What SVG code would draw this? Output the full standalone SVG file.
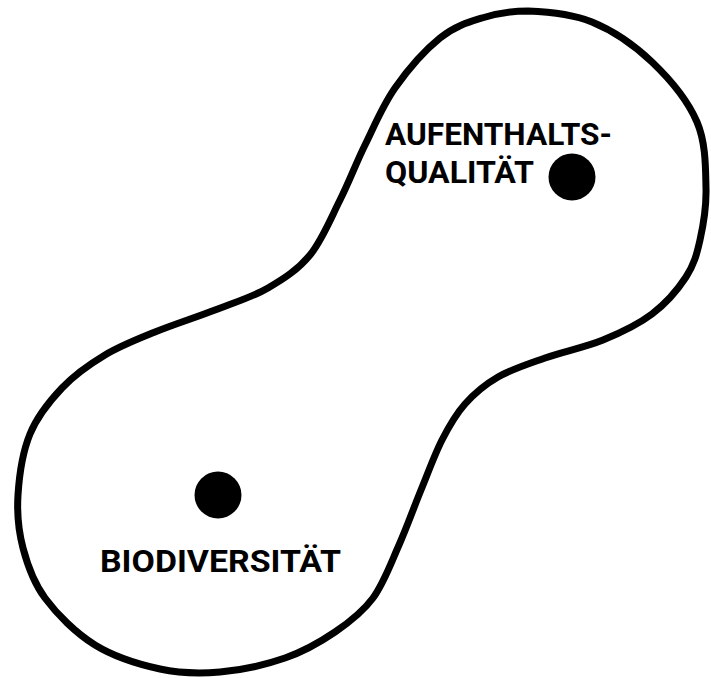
<svg xmlns="http://www.w3.org/2000/svg" width="711" height="678" viewBox="0 0 711 678">
  <style>
    .outline { fill: none; stroke: #000; stroke-width: 7; stroke-linejoin: round; }
    .dot { fill: #000; }
    .label { font-family: Roboto, "Liberation Sans", sans-serif; font-weight: 700; font-size: 31px; fill: #000; }
  </style>
  <rect x="0" y="0" width="711" height="678" fill="#fff"/>
  <g id="outline">
    <path class="outline" d="M 528 11 C 546.3 11.7, 571.3 13.5, 592 22 C 612.7 30.5, 634.5 45.3, 652 62 C 669.5 78.7, 688 101, 697 122 C 706 143, 705.5 168.3, 706 188 C 706.5 207.7, 703.3 225.2, 700 240 C 696.7 254.8, 694 264.7, 686 277 C 678 289.3, 665.8 303.5, 652 314 C 638.2 324.5, 620.8 332.7, 603 340 C 585.2 347.3, 562.5 351.8, 545 358 C 527.5 364.2, 511.3 369.3, 498 377 C 484.7 384.7, 474.3 393.5, 465 404 C 455.7 414.5, 449.3 425.7, 442 440 C 434.7 454.3, 428.2 472.5, 421 490 C 413.8 507.5, 407 527, 399 545 C 391 563, 383.7 583.5, 373 598 C 362.3 612.5, 349.7 622, 335 632 C 320.3 642, 304.2 651.3, 285 658 C 265.8 664.7, 240.8 670.2, 220 672 C 199.2 673.8, 180.8 673.5, 160 669 C 139.2 664.5, 114.2 656.8, 95 645 C 75.8 633.2, 57 614.2, 45 598 C 33 581.8, 27.5 565.2, 23 548 C 18.5 530.8, 16.8 514, 18 495 C 19.2 476, 22.7 451.8, 30 434 C 37.3 416.2, 49.5 401.2, 62 388 C 74.5 374.8, 89.5 364.3, 105 355 C 120.5 345.7, 136.7 339.5, 155 332 C 173.3 324.5, 196.2 317.3, 215 310 C 233.8 302.7, 252.2 297.2, 268 288 C 283.8 278.8, 298 269.7, 310 255 C 322 240.3, 330.8 218.3, 340 200 C 349.2 181.7, 355.8 163.7, 365 145 C 374.2 126.3, 382.5 105.8, 395 88 C 407.5 70.2, 425.5 49.7, 440 38 C 454.5 26.3, 467.3 22.5, 482 18 C 496.7 13.5, 513.3 11, 528 11 Z"/>
  </g>
  <g id="aufenthaltsqualitaet">
    <circle class="dot" cx="572" cy="177" r="23.5"/>
    <text class="label" x="385" y="145" textLength="227" lengthAdjust="spacingAndGlyphs">AUFENTHALTS-</text>
    <text class="label" x="385" y="183" textLength="149" lengthAdjust="spacingAndGlyphs">QUALITÄT</text>
  </g>
  <g id="biodiversitaet">
    <circle class="dot" cx="218" cy="495" r="23.5"/>
    <text class="label" x="100" y="572" textLength="241" lengthAdjust="spacingAndGlyphs">BIODIVERSITÄT</text>
  </g>
</svg>
